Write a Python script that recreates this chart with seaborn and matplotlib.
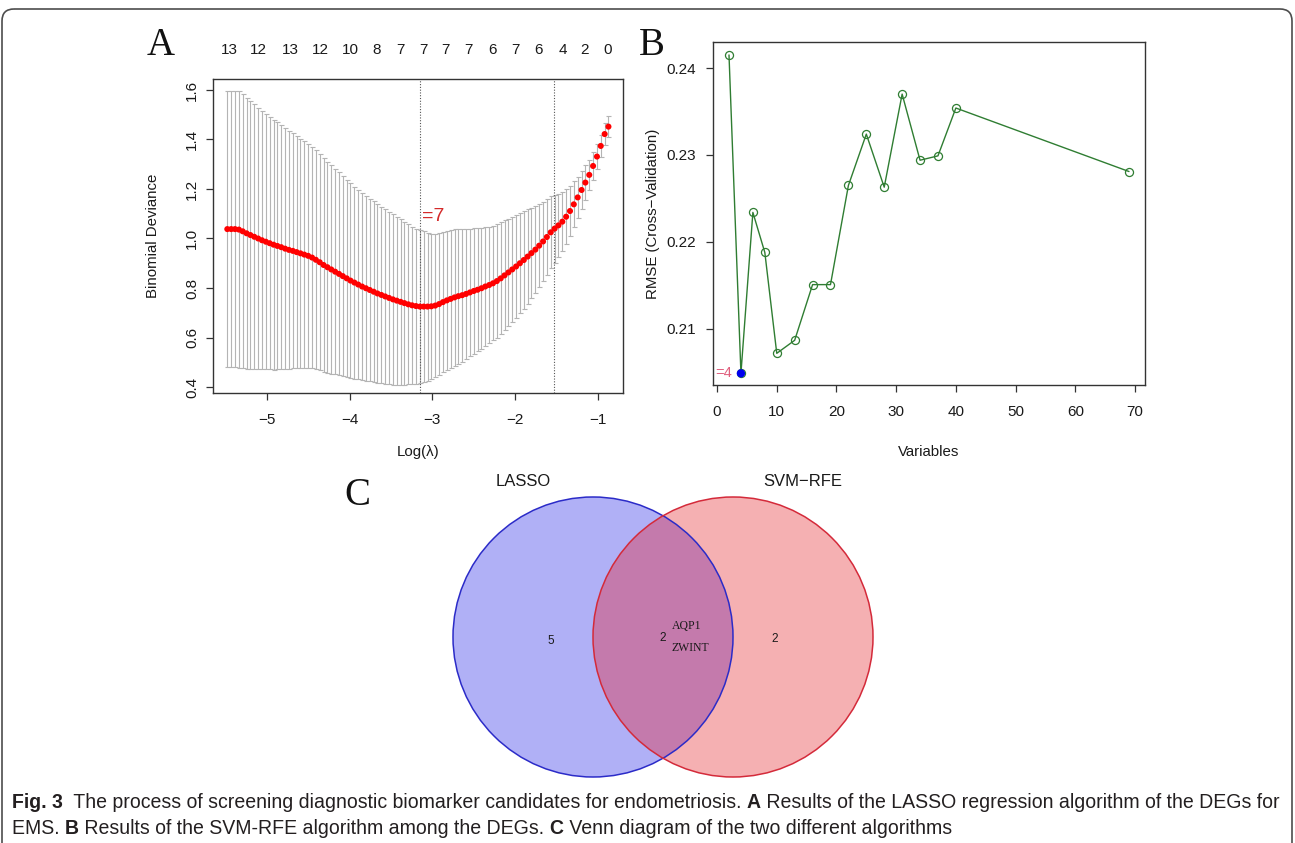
import numpy as np
import pandas as pd
import matplotlib
matplotlib.use("Agg")
import matplotlib.pyplot as plt
import seaborn as sns
from matplotlib import font_manager
from matplotlib.patches import Circle, FancyBboxPatch

# ---------------- Panel A: LASSO cross-validation ----------------
log_lambda = [
    -5.480, -5.433, -5.387, -5.340, -5.294, -5.247, -5.201, -5.154, -5.107, -5.061,
    -5.014, -4.968, -4.921, -4.875, -4.828, -4.781, -4.735, -4.688, -4.642, -4.595,
    -4.549, -4.502, -4.455, -4.409, -4.362, -4.316, -4.269, -4.223, -4.176, -4.129,
    -4.083, -4.036, -3.990, -3.943, -3.897, -3.850, -3.803, -3.757, -3.710, -3.664,
    -3.617, -3.571, -3.524, -3.477, -3.431, -3.384, -3.338, -3.291, -3.245, -3.198,
    -3.151, -3.105, -3.058, -3.012, -2.965, -2.919, -2.872, -2.825, -2.779, -2.732,
    -2.686, -2.639, -2.593, -2.546, -2.499, -2.453, -2.406, -2.360, -2.313, -2.267,
    -2.220, -2.173, -2.127, -2.080, -2.034, -1.987, -1.941, -1.894, -1.847, -1.801,
    -1.754, -1.708, -1.661, -1.615, -1.568, -1.521, -1.475, -1.428, -1.382, -1.335,
    -1.289, -1.242, -1.195, -1.149, -1.102, -1.056, -1.009, -0.963, -0.916, -0.870,
]
mean_deviance = [
    1.038, 1.038, 1.038, 1.036, 1.029, 1.021, 1.014, 1.007, 1.000, 0.993,
    0.987, 0.981, 0.975, 0.970, 0.965, 0.959, 0.954, 0.950, 0.945, 0.940,
    0.935, 0.930, 0.923, 0.914, 0.904, 0.893, 0.884, 0.875, 0.866, 0.857,
    0.848, 0.839, 0.830, 0.822, 0.814, 0.806, 0.799, 0.792, 0.785, 0.778,
    0.772, 0.766, 0.760, 0.754, 0.749, 0.744, 0.739, 0.734, 0.730, 0.727,
    0.725, 0.725, 0.725, 0.726, 0.729, 0.735, 0.743, 0.750, 0.756, 0.762,
    0.767, 0.771, 0.776, 0.782, 0.788, 0.793, 0.799, 0.806, 0.812, 0.819,
    0.828, 0.839, 0.851, 0.863, 0.875, 0.887, 0.900, 0.913, 0.927, 0.941,
    0.955, 0.971, 0.988, 1.006, 1.025, 1.040, 1.053, 1.068, 1.088, 1.111,
    1.138, 1.166, 1.196, 1.226, 1.257, 1.293, 1.331, 1.374, 1.422, 1.452,
]
deviance_sd = [
    0.559, 0.559, 0.559, 0.558, 0.553, 0.547, 0.541, 0.535, 0.529, 0.522,
    0.516, 0.510, 0.505, 0.499, 0.493, 0.487, 0.481, 0.475, 0.469, 0.464,
    0.458, 0.453, 0.447, 0.442, 0.437, 0.432, 0.426, 0.421, 0.415, 0.410,
    0.404, 0.398, 0.393, 0.388, 0.383, 0.378, 0.374, 0.369, 0.365, 0.361,
    0.357, 0.353, 0.348, 0.344, 0.339, 0.334, 0.329, 0.323, 0.318, 0.313,
    0.309, 0.304, 0.299, 0.294, 0.289, 0.286, 0.284, 0.282, 0.280, 0.277,
    0.273, 0.268, 0.264, 0.258, 0.253, 0.248, 0.244, 0.240, 0.235, 0.231,
    0.229, 0.226, 0.222, 0.217, 0.212, 0.208, 0.203, 0.198, 0.192, 0.183,
    0.175, 0.167, 0.160, 0.152, 0.145, 0.137, 0.128, 0.120, 0.111, 0.102,
    0.093, 0.084, 0.076, 0.069, 0.062, 0.056, 0.050, 0.046, 0.044, 0.042,
]
nonzero_pos = [-5.46, -5.10, -4.72, -4.36, -3.99, -3.67, -3.38, -3.11,
               -2.84, -2.56, -2.27, -1.99, -1.72, -1.42, -1.16, -0.88]
nonzero_labels = ["13", "12", "13", "12", "10", "8", "7", "7",
                  "7", "7", "6", "7", "6", "4", "2", "0"]
lambda_min = -3.151
lambda_1se = -1.527
min_label = "=7"

# ---------------- Panel B: SVM-RFE ----------------
n_variables = [2, 4, 6, 8, 10, 13, 16, 19, 22, 25, 28, 31, 34, 37, 40, 69]
rmse_cv = [0.2415, 0.2049, 0.2234, 0.2188, 0.2072, 0.2087, 0.2151, 0.2151,
           0.2265, 0.2324, 0.2263, 0.2370, 0.2294, 0.2299, 0.2354, 0.2281]
best_n = 4
best_label = "=4"

# ---------------- Panel C: Venn ----------------
set_names = ["LASSO", "SVM\u2212RFE"]
venn_counts = [5, 2, 2]          # LASSO only, both, SVM-RFE only
shared_genes = ["AQP1", "ZWINT"]

caption_line1 = [("Fig. 3", True),
                 ("  The process of screening diagnostic biomarker candidates for endometriosis. ", False),
                 ("A", True),
                 (" Results of the LASSO regression algorithm of the DEGs for", False)]
caption_line2 = [("EMS. ", False), ("B", True),
                 (" Results of the SVM-RFE algorithm among the DEGs. ", False),
                 ("C", True), (" Venn diagram of the two different algorithms", False)]

# ---------------- style ----------------
sns.set_theme(style="ticks")
plt.rcParams["font.family"] = ["Liberation Sans", "DejaVu Sans"]
plt.rcParams["axes.edgecolor"] = "#333333"
plt.rcParams["axes.linewidth"] = 1.0

W, H = 1295, 843
fig = plt.figure(figsize=(W / 100, H / 100), dpi=100)
fig.patch.set_facecolor("white")

bg = fig.add_axes([0, 0, 1, 1])
bg.set_xlim(0, W)
bg.set_ylim(H, 0)
bg.axis("off")


def px_axes(l, t, r, b):
    return fig.add_axes([l / W, 1 - b / H, (r - l) / W, (b - t) / H])


TICKCOL = "#333333"
TXT = "#1a1a1a"
TS = 11      # tick label size
LS = 10.8    # axis label size

# ---------------- Panel A ----------------
axA = px_axes(213, 79, 623, 393)
axA.errorbar(log_lambda, mean_deviance, yerr=deviance_sd, fmt="none",
             ecolor="#b4b4b4", elinewidth=0.8, capsize=1.8, capthick=0.8, zorder=1)
sns.scatterplot(x=log_lambda, y=mean_deviance, ax=axA, color="#ff0000",
                s=19, edgecolor="none", zorder=3, legend=False)
axA.axvline(lambda_min, ls=(0, (1, 1.5)), color="#555555", lw=0.8, zorder=2)
axA.axvline(lambda_1se, ls=(0, (1, 1.5)), color="#555555", lw=0.8, zorder=2)
axA.text(lambda_min + 0.03, 1.087, min_label, color="#d42a2a", fontsize=14,
         ha="left", va="center")
axA.set_xlim(-5.653, -0.694)
axA.set_ylim(0.3758, 1.6444)
axA.set_xticks([-5, -4, -3, -2, -1])
axA.set_yticks([0.4, 0.6, 0.8, 1.0, 1.2, 1.4, 1.6])
axA.set_yticklabels(["0.4", "0.6", "0.8", "1.0", "1.2", "1.4", "1.6"])
axA.tick_params(axis="both", direction="out", length=5, width=0.9, color=TICKCOL,
                labelsize=TS, labelcolor=TXT)
axA.tick_params(axis="x", pad=9.5)
axA.tick_params(axis="y", pad=5)
for lab in axA.get_yticklabels():
    lab.set_rotation(90)
    lab.set_va("center")
for sp in axA.spines.values():
    sp.set_visible(True)
    sp.set_color(TICKCOL)
axA.set_xlabel("Log(\u03bb)", fontsize=LS, color=TXT)
axA.xaxis.set_label_coords(0.5, -(452 - 393) / 314)
axA.xaxis.label.set_va("center")
axA.set_ylabel("Binomial Deviance", fontsize=LS, color=TXT)
axA.yaxis.set_label_coords((153 - 213) / 410, 0.5)
axA.yaxis.label.set_va("center")
secA = axA.secondary_xaxis("top")
secA.set_xticks(nonzero_pos, labels=nonzero_labels)
secA.tick_params(length=0, pad=15.5, labelsize=TS, labelcolor=TXT)
secA.spines["top"].set_visible(False)

# ---------------- Panel B ----------------
axB = px_axes(713, 42, 1145, 385)
dfB = pd.DataFrame({"Variables": n_variables, "RMSE": rmse_cv})
GREEN = "#2f7d32"
sns.lineplot(data=dfB, x="Variables", y="RMSE", ax=axB, color=GREEN, lw=1.0,
             marker="o", markersize=5.8, markerfacecolor="none",
             markeredgecolor=GREEN, markeredgewidth=0.9, zorder=2)
best_rmse = rmse_cv[n_variables.index(best_n)]
sns.scatterplot(x=[best_n], y=[best_rmse], ax=axB, color="#0000ee", s=36,
                edgecolor="none", zorder=4, legend=False)
axB.text(best_n - 1.55, best_rmse, best_label, color="#e0607e", fontsize=10.5,
         ha="right", va="center", clip_on=True)
axB.set_xlim(-0.68, 71.68)
axB.set_ylim(0.20356, 0.24299)
axB.set_xticks([0, 10, 20, 30, 40, 50, 60, 70])
axB.set_yticks([0.21, 0.22, 0.23, 0.24])
axB.set_yticklabels(["0.21", "0.22", "0.23", "0.24"])
axB.tick_params(axis="both", direction="out", length=5, width=0.9, color=TICKCOL,
                labelsize=TS, labelcolor=TXT)
axB.tick_params(axis="x", pad=9.5)
axB.tick_params(axis="y", pad=7)
for sp in axB.spines.values():
    sp.set_visible(True)
    sp.set_color(TICKCOL)
axB.set_xlabel("Variables", fontsize=LS, color=TXT)
axB.xaxis.set_label_coords(0.5, -(452 - 385) / 343)
axB.xaxis.label.set_va("center")
axB.set_ylabel("RMSE (Cross\u2212Validation)", fontsize=LS, color=TXT)
axB.yaxis.set_label_coords((653 - 713) / 432, 0.5)
axB.yaxis.label.set_va("center")

# ---------------- Panel letters ----------------
SERIF = ["Liberation Serif", "DejaVu Serif"]
bg.text(161, 55, "A", family=SERIF, fontsize=28, ha="center", va="baseline", color="#111111")
bg.text(652, 55, "B", family=SERIF, fontsize=28, ha="center", va="baseline", color="#111111")
bg.text(357, 505, "C", family=SERIF, fontsize=28, ha="center", va="baseline", color="#111111")

# ---------------- Panel C: Venn ----------------
cy, r = 637, 140
c1x, c2x = 593, 733
left = Circle((c1x, cy), r, facecolor="#b0b0f6", edgecolor="none", zorder=1)
right = Circle((c2x, cy), r, facecolor="#f5b0b2", edgecolor="none", zorder=1)
bg.add_patch(left)
bg.add_patch(right)
inter = Circle((c2x, cy), r, facecolor="#c47aac", edgecolor="none", zorder=2)
bg.add_patch(inter)
inter.set_clip_path(left)
bg.add_patch(Circle((c1x, cy), r, facecolor="none", edgecolor="#2b2bc8", lw=1.1, zorder=3))
bg.add_patch(Circle((c2x, cy), r, facecolor="none", edgecolor="#d42a3a", lw=1.1, zorder=3))
bg.text(523, 481, set_names[0], fontsize=12, ha="center", va="center", color=TXT)
bg.text(803, 481, set_names[1], fontsize=12, ha="center", va="center", color=TXT)
bg.text(551, 641, str(venn_counts[0]), fontsize=8.5, ha="center", va="center", color=TXT, zorder=4)
bg.text(663, 638, str(venn_counts[1]), fontsize=8.5, ha="center", va="center", color=TXT, zorder=4)
bg.text(775, 639, str(venn_counts[2]), fontsize=8.5, ha="center", va="center", color=TXT, zorder=4)
bg.text(672, 626, shared_genes[0], family=SERIF, fontsize=8.5, ha="left", va="center", color=TXT, zorder=4)
bg.text(672, 648, shared_genes[1], family=SERIF, fontsize=8.5, ha="left", va="center", color=TXT, zorder=4)

# ---------------- outer frame ----------------
frame = FancyBboxPatch((2, 9), 1290, 900, boxstyle="round,pad=0,rounding_size=12",
                       facecolor="none", edgecolor="#4d4d4d", lw=1.2, clip_on=False, zorder=0)
bg.add_patch(frame)

# ---------------- caption ----------------
names = {f.name for f in font_manager.fontManager.ttflist}
cap_family = "Liberation Sans Narrow" if "Liberation Sans Narrow" in names else "Liberation Sans"
renderer = fig.canvas.get_renderer()


def text_w(s, size, bold):
    t1 = fig.text(0, 0, "|" + s + "|", fontsize=size, family=cap_family,
                  fontweight="bold" if bold else "normal")
    t2 = fig.text(0, 0, "||", fontsize=size, family=cap_family,
                  fontweight="bold" if bold else "normal")
    w = t1.get_window_extent(renderer).width - t2.get_window_extent(renderer).width
    t1.remove()
    t2.remove()
    return w


base = 10.0
w1 = sum(text_w(s, base, b) for s, b in caption_line1)
cap_size = base * (1283 - 12) / w1


def draw_line(segs, x0, ybase):
    x = x0
    for s, b in segs:
        fig.text(x / W, 1 - ybase / H, s, fontsize=cap_size, family=cap_family,
                 fontweight="bold" if b else "normal", ha="left", va="baseline",
                 color="#231f20")
        x += text_w(s, cap_size, b)


draw_line(caption_line1, 12, 808)
draw_line(caption_line2, 12, 834)

fig.savefig("out.png", dpi=100, facecolor="white")
